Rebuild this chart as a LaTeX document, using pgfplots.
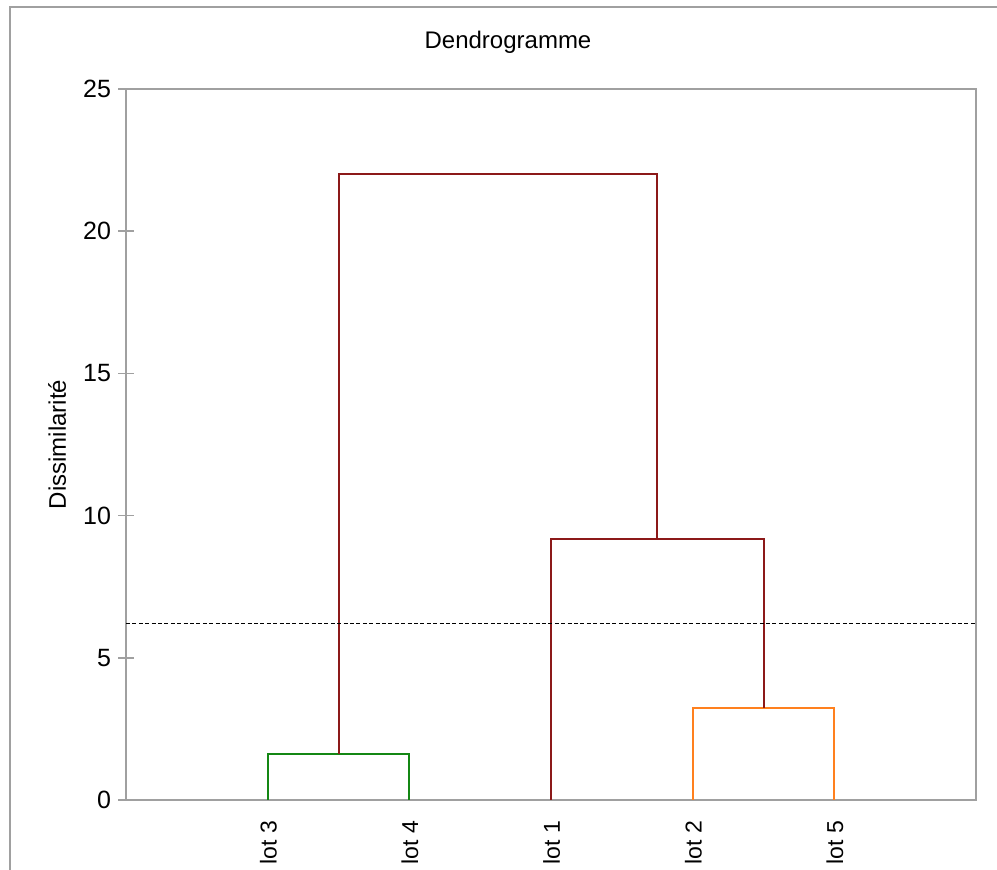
\documentclass[border=0pt]{standalone}
\usepackage{pgfplots}
\pgfplotsset{compat=1.18}
\usepackage{fontspec}
\setmainfont{Liberation Sans}
\definecolor{axgray}{RGB}{160,160,160}
\definecolor{dred}{RGB}{140,25,25}
\definecolor{dgreen}{RGB}{20,135,20}
\definecolor{dorange}{RGB}{255,128,30}
\begin{document}
\begin{tikzpicture}
\path[use as bounding box] (0pt,0pt) rectangle (498.5pt,435pt);
\draw[axgray,line width=0.75pt] (5pt,0pt) -- (5pt,431.5pt) -- (498.5pt,431.5pt);
\node[font=\fontsize{12}{14}\selectfont] at (254pt,414pt) {Dendrogramme};
\begin{axis}[
  at={(63pt,35pt)}, anchor=south west,
  scale only axis, width=425pt, height=355.5pt,
  xmin=0, xmax=6, ymin=0, ymax=25,
  axis line style={axgray,line width=0.75pt},
  xtick={1,2,3,4,5},
  xticklabels={lot 3,lot 4,lot 1,lot 2,lot 5},
  x tick label style={rotate=90,anchor=mid east,font=\fontsize{11.5}{13}\selectfont,xshift=-3pt,yshift=-1.8pt},
  xtick style={draw=none},
  ytick={0,5,10,15,20,25},
  ytick pos=left,
  tick align=center,
  major tick length=8pt,
  ytick style={axgray,line width=0.75pt},
  y tick label style={font=\fontsize{12.5}{14}\selectfont},
  /pgf/number format/assume math mode=true,
  ylabel={Dissimilarité},
  ylabel style={at={(axis description cs:-0.081,0.5)},anchor=center,font=\fontsize{12}{14}\selectfont},
  clip=false,
]
\addplot[dgreen,line width=1pt] coordinates {(1,0) (1,1.62) (2,1.62) (2,0)};
\addplot[dorange,line width=1pt] coordinates {(4,0) (4,3.25) (5,3.25) (5,0)};
\addplot[dred,line width=1pt] coordinates {(3,0) (3,9.18) (4.5,9.18) (4.5,3.25)};
\addplot[dred,line width=1pt] coordinates {(1.5,1.62) (1.5,22.0) (3.75,22.0) (3.75,9.18)};
\addplot[black,line width=0.7pt,dash pattern=on 2pt off 1.2pt] coordinates {(0,6.21) (6,6.21)};
\end{axis}
\end{tikzpicture}
\end{document}
